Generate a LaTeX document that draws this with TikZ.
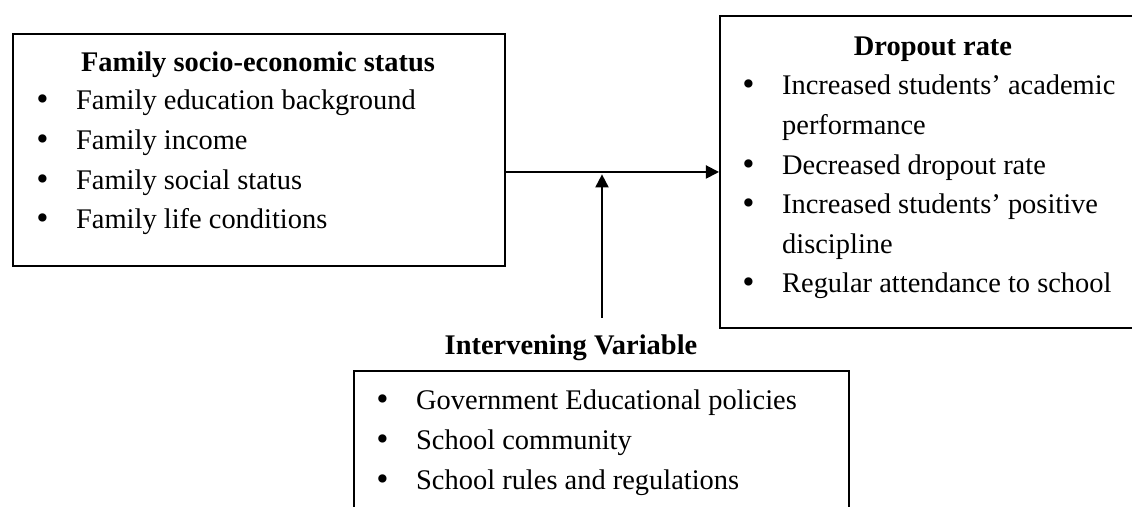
\documentclass[tikz,border=0pt]{standalone}
\usepackage{fontspec}
\setmainfont{Liberation Serif}
\newfontfamily\bulletfont{DejaVu Sans}
\usepackage{array}
\usetikzlibrary{arrows.meta}

\newcommand{\bul}{\makebox[17.6pt][l]{\bulletfont\char"2022}}

\begin{document}
\begin{tikzpicture}[x=0.422pt, y=-0.422pt,
		box/.style={draw, line width=0.8pt, anchor=north west, inner sep=0pt},
		txt/.style={inner sep=0pt, font=\fontsize{12}{16.7}\selectfont},
		head/.style={txt, anchor=base, font=\fontsize{12}{16.7}\selectfont\bfseries},
		flow/.style={line width=0.8pt, -{Triangle[length=5.5pt, width=5.5pt]}}]
				  \useasboundingbox (0,0) rectangle (1132,507);
				  \clip (0,0) rectangle (1132,507);
				  % the three boxes
				  \node[box, minimum width=207.6pt, minimum height=97.9pt] (fam) at (12,33) {};
				  \node[box, minimum width=190pt, minimum height=131.7pt] (drop) at (719,15) {};
				  \node[box, minimum width=208.9pt, minimum height=67.5pt] (interv) at (353,370) {};
				  % headings
				  \node[head] (famhead) at (258,72) {Family socio-economic status};
				  \node[head] (drophead) at (933,56) {Dropout rate};
				  \node[head] (intervhead) at (571,355) {Intervening Variable};
				  % bullet lists
				  \node[txt, anchor=base west] (famlist) at (34,110) {\begin{tabular}[t]{@{}l@{}}
				    \bul Family education background\\
				    \bul Family income\\
				    \bul Family social status\\
				    \bul Family life conditions
				  \end{tabular}};
				  \node[txt, anchor=base west] (droplist) at (740,95) {\begin{tabular}[t]{@{}l@{}l@{}}
				    \bul & Increased students' academic\\
				    & performance\\
				    \bul & Decreased dropout rate\\
				    \bul & Increased students' positive\\
				    & discipline\\
				    \bul & Regular attendance to school
				  \end{tabular}};
				  \node[txt, anchor=base west] (intervlist) at (374,410) {\begin{tabular}[t]{@{}l@{}}
				    \bul Government Educational policies\\
				    \bul School community\\
				    \bul School rules and regulations
				  \end{tabular}};
				  % arrows
				  \coordinate (ivfoot) at (602,318);
				  \draw[flow] (fam.east |- drop.west) -- (drop.west);
				  \draw[flow, shorten >=1pt] (ivfoot) -- (ivfoot |- drop.west);
				\end{tikzpicture}
\end{document}
